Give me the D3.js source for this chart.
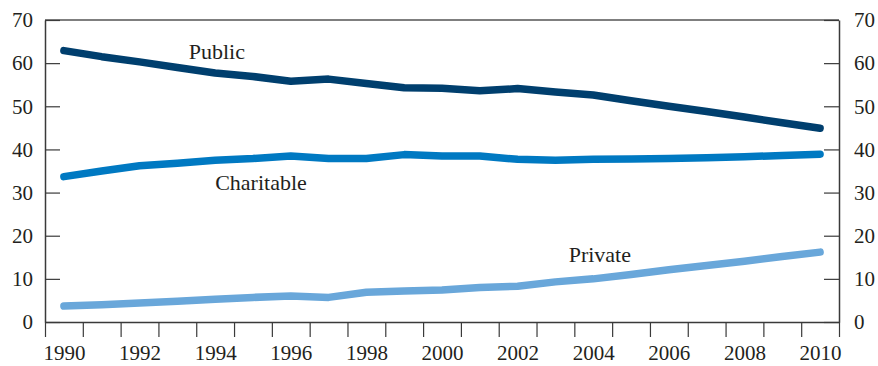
<!DOCTYPE html>
<html>
<head>
<meta charset="utf-8">
<script src="https://cdn.jsdelivr.net/npm/d3@7"></script>
<style>
  html, body { margin: 0; padding: 0; background: #fff; }
  svg { display: block; }
  .axis text { font-family: "Liberation Serif", "Times New Roman", serif; font-size: 21px; fill: #231f20; }
  .axis path, .axis line { stroke: #3a3a3a; }
  .series-label { font-family: "Liberation Serif", "Times New Roman", serif; font-size: 22px; fill: #231f20; }
</style>
</head>
<body>
<svg id="chart" width="878" height="366"></svg>
<script>
// Years on the horizontal axis
const years = [1990, 1991, 1992, 1993, 1994, 1995, 1996, 1997, 1998, 1999, 2000,
               2001, 2002, 2003, 2004, 2005, 2006, 2007, 2008, 2009, 2010];

// Shares by funding source (percent)
const publicShare     = [62.9, 61.5, 60.3, 59.0, 57.7, 56.9, 55.8, 56.3, 55.3, 54.3, 54.2,
                         53.6, 54.1, 53.3, 52.6, 51.3, 50.0, 48.8, 47.5, 46.2, 44.9];
const charitableShare = [33.7, 35.0, 36.2, 36.8, 37.5, 37.9, 38.5, 37.9, 37.9, 38.8, 38.5,
                         38.5, 37.7, 37.5, 37.7, 37.8, 37.9, 38.1, 38.3, 38.6, 38.9];
const privateShare    = [3.7, 4.0, 4.4, 4.8, 5.3, 5.7, 6.0, 5.7, 6.9, 7.2, 7.4,
                         8.0, 8.3, 9.3, 10.0, 11.0, 12.1, 13.1, 14.1, 15.2, 16.2];

const seriesNames = ["Public", "Charitable", "Private"];
const yTicks = [0, 10, 20, 30, 40, 50, 60, 70];
const xLabelYears = [1990, 1992, 1994, 1996, 1998, 2000, 2002, 2004, 2006, 2008, 2010];

const svg = d3.select("#chart");
const plotLeft = 45, plotRight = 839, plotTop = 20, plotBottom = 322;

// Each year occupies one band; ticks sit on band edges, points at band centres
const x = d3.scaleLinear().domain([years[0] - 0.5, years[years.length - 1] + 0.5]).range([plotLeft, plotRight]);
const y = d3.scaleLinear().domain([0, 70]).range([plotBottom, plotTop]);

// Frame top line
svg.append("line")
  .attr("x1", plotLeft).attr("x2", plotRight).attr("y1", plotTop).attr("y2", plotTop)
  .attr("stroke", "#555").attr("stroke-width", 1.3);

// Bottom axis: tick marks on year boundaries
const edges = years.map(d => d - 0.5).concat([years[years.length - 1] + 0.5]);
svg.append("g").attr("class", "axis")
  .attr("transform", `translate(0,${plotBottom})`)
  .call(d3.axisBottom(x).tickValues(edges).tickSize(15).tickSizeOuter(0).tickFormat(""))
  .call(g => g.select(".domain").attr("stroke-width", 1.5))
  .call(g => g.selectAll(".tick line").attr("stroke-width", 1.2));

// Bottom axis labels at even years
svg.append("g").attr("class", "axis")
  .attr("transform", `translate(0,${plotBottom})`)
  .call(d3.axisBottom(x).tickValues(xLabelYears).tickSize(0).tickPadding(23).tickFormat(d3.format("d")))
  .call(g => g.select(".domain").remove());

// Left axis, ticks pointing inward
svg.append("g").attr("class", "axis")
  .attr("transform", `translate(${plotLeft},0)`)
  .call(d3.axisLeft(y).tickValues(yTicks).tickSizeInner(-15).tickSizeOuter(0).tickPadding(12))
  .call(g => g.select(".domain").attr("stroke-width", 1.5))
  .call(g => g.selectAll(".tick line").attr("stroke-width", 1.2));

// Right axis, ticks pointing inward
svg.append("g").attr("class", "axis")
  .attr("transform", `translate(${plotRight},0)`)
  .call(d3.axisRight(y).tickValues(yTicks).tickSizeInner(-15).tickSizeOuter(0).tickPadding(15))
  .call(g => g.select(".domain").attr("stroke-width", 1.5))
  .call(g => g.selectAll(".tick line").attr("stroke-width", 1.2));

// Lines
const series = [
  { name: seriesNames[0], values: publicShare,     color: "#003f6e" },
  { name: seriesNames[1], values: charitableShare, color: "#0079c2" },
  { name: seriesNames[2], values: privateShare,    color: "#69a7da" }
];

const line = d3.line()
  .x((d, i) => x(years[i]))
  .y(d => y(d));

svg.append("g").selectAll("path")
  .data(series)
  .join("path")
  .attr("d", s => line(s.values))
  .attr("fill", "none")
  .attr("stroke", s => s.color)
  .attr("stroke-width", 7.5)
  .attr("stroke-linecap", "round")
  .attr("stroke-linejoin", "round");

// Series labels
const labelPos = [
  { name: seriesNames[0], year: 1993.3, value: 61.0 },
  { name: seriesNames[1], year: 1994.0, value: 30.5 },
  { name: seriesNames[2], year: 2003.35, value: 14.0 }
];
svg.append("g").selectAll("text")
  .data(labelPos)
  .join("text")
  .attr("class", "series-label")
  .attr("x", d => x(d.year))
  .attr("y", d => y(d.value))
  .text(d => d.name);
</script>
</body>
</html>
